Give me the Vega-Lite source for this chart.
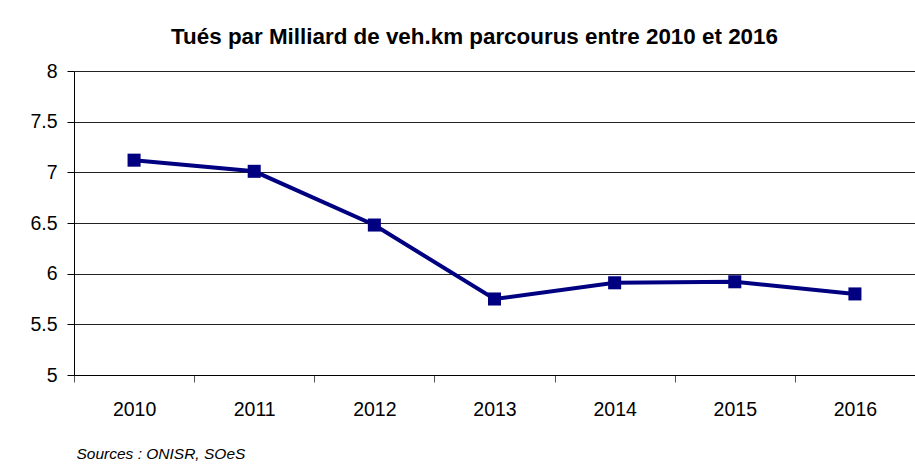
{
  "$schema": "https://vega.github.io/schema/vega-lite/v6.json",
  "autosize": {"type": "none"},
  "width": 841,
  "height": 304,
  "padding": {"left": 74, "top": 71, "right": 0, "bottom": 90},
  "background": "white",
  "config": {
    "font": "Liberation Sans",
    "view": {"stroke": null}
  },
  "title": {
    "text": "Tués par Milliard de veh.km parcourus entre 2010 et 2016",
    "font": "Liberation Sans",
    "fontSize": 22.4,
    "fontWeight": "bold",
    "color": "black",
    "anchor": "middle",
    "frame": "group",
    "dx": -20,
    "baseline": "alphabetic",
    "offset": -5
  },
  "data": {
    "values": [
      {"annee": "2010", "tues": 7.12},
      {"annee": "2011", "tues": 7.01},
      {"annee": "2012", "tues": 6.48},
      {"annee": "2013", "tues": 5.75},
      {"annee": "2014", "tues": 5.91},
      {"annee": "2015", "tues": 5.92},
      {"annee": "2016", "tues": 5.80}
    ]
  },
  "encoding": {
    "x": {
      "field": "annee",
      "type": "ordinal",
      "scale": {"paddingInner": 0, "paddingOuter": 0},
      "axis": {
        "title": "Sources : ONISR, SOeS",
        "titleFont": "Liberation Sans",
        "titleFontSize": 15.5,
        "titleFontStyle": "italic",
        "titleFontWeight": "normal",
        "titleColor": "black",
        "titleAlign": "left",
        "titleBaseline": "alphabetic",
        "titleX": 2,
        "titleY": 83,
        "labelAngle": 0,
        "labelFontSize": 19.5,
        "labelColor": "black",
        "labelPadding": 18,
        "tickBand": "extent",
        "tickSize": 7,
        "tickColor": "#555555",
        "domainColor": "black",
        "grid": false
      }
    },
    "y": {
      "field": "tues",
      "type": "quantitative",
      "scale": {"domain": [5, 8], "nice": false, "zero": false},
      "axis": {
        "title": null,
        "values": [5, 5.5, 6, 6.5, 7, 7.5, 8],
        "format": "~g",
        "labelFontSize": 19.5,
        "labelColor": "black",
        "labelPadding": 10,
        "tickSize": 7,
        "tickColor": "black",
        "domainColor": "black",
        "gridColor": "#222222",
        "gridOpacity": 1,
        "grid": true
      }
    }
  },
  "layer": [
    {"mark": {"type": "line", "color": "#000080", "strokeWidth": 4}},
    {"mark": {"type": "square", "color": "#000080", "filled": true, "opacity": 1, "size": 170}}
  ]
}
